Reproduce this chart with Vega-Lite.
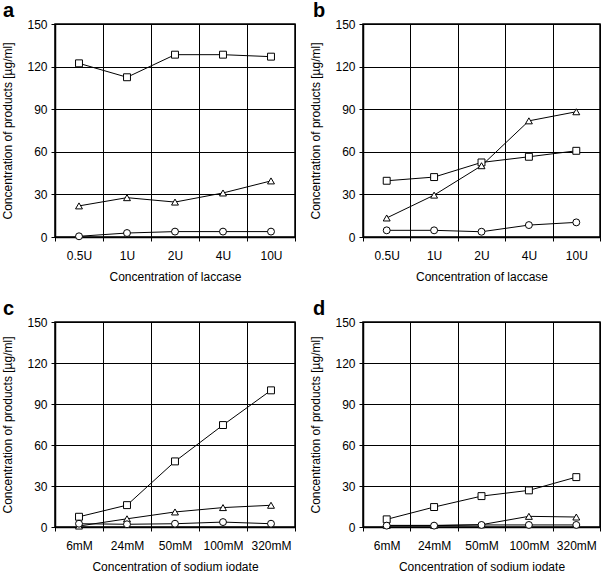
{
  "$schema": "https://vega.github.io/schema/vega-lite/v6.json",
  "padding": {"left": 1, "top": 0, "right": 0, "bottom": 0},
  "background": "white",
  "spacing": 15,
  "config": {
    "font": "Liberation Sans",
    "view": {"stroke": "black", "strokeWidth": 1.5},
    "axis": {
      "labelFont": "Liberation Sans", "labelFontSize": 12, "labelColor": "black",
      "titleFont": "Liberation Sans", "titleFontSize": 12, "titleFontWeight": "normal", "titleColor": "black",
      "domainColor": "black", "domainWidth": 1.5, "tickColor": "black", "tickSize": 4, "tickWidth": 1,
      "gridColor": "black", "gridOpacity": 1, "gridWidth": 1, "labelPadding": 4
    }
  },
  "datasets": {
    "d": [
      {"panel": "a", "conc": "0.5U", "series": "square", "value": 122.3},
      {"panel": "a", "conc": "1U", "series": "square", "value": 112.5},
      {"panel": "a", "conc": "2U", "series": "square", "value": 128.4},
      {"panel": "a", "conc": "4U", "series": "square", "value": 128.4},
      {"panel": "a", "conc": "10U", "series": "square", "value": 127},
      {"panel": "a", "conc": "0.5U", "series": "triangle", "value": 21.9},
      {"panel": "a", "conc": "1U", "series": "triangle", "value": 27.7},
      {"panel": "a", "conc": "2U", "series": "triangle", "value": 24.6},
      {"panel": "a", "conc": "4U", "series": "triangle", "value": 31},
      {"panel": "a", "conc": "10U", "series": "triangle", "value": 39.5},
      {"panel": "a", "conc": "0.5U", "series": "circle", "value": 0.5},
      {"panel": "a", "conc": "1U", "series": "circle", "value": 2.8},
      {"panel": "a", "conc": "2U", "series": "circle", "value": 3.8},
      {"panel": "a", "conc": "4U", "series": "circle", "value": 3.8},
      {"panel": "a", "conc": "10U", "series": "circle", "value": 3.8},
      {"panel": "b", "conc": "0.5U", "series": "square", "value": 39.6},
      {"panel": "b", "conc": "1U", "series": "square", "value": 42.2},
      {"panel": "b", "conc": "2U", "series": "square", "value": 52.5},
      {"panel": "b", "conc": "4U", "series": "square", "value": 56.5},
      {"panel": "b", "conc": "10U", "series": "square", "value": 60.7},
      {"panel": "b", "conc": "0.5U", "series": "triangle", "value": 13.4},
      {"panel": "b", "conc": "1U", "series": "triangle", "value": 29.5},
      {"panel": "b", "conc": "2U", "series": "triangle", "value": 50.2},
      {"panel": "b", "conc": "4U", "series": "triangle", "value": 81.8},
      {"panel": "b", "conc": "10U", "series": "triangle", "value": 88.2},
      {"panel": "b", "conc": "0.5U", "series": "circle", "value": 4.7},
      {"panel": "b", "conc": "1U", "series": "circle", "value": 4.7},
      {"panel": "b", "conc": "2U", "series": "circle", "value": 3.7},
      {"panel": "b", "conc": "4U", "series": "circle", "value": 8.4},
      {"panel": "b", "conc": "10U", "series": "circle", "value": 10.3},
      {"panel": "c", "conc": "6mM", "series": "square", "value": 7.5},
      {"panel": "c", "conc": "24mM", "series": "square", "value": 16},
      {"panel": "c", "conc": "50mM", "series": "square", "value": 48},
      {"panel": "c", "conc": "100mM", "series": "square", "value": 74.6},
      {"panel": "c", "conc": "320mM", "series": "square", "value": 100},
      {"panel": "c", "conc": "6mM", "series": "triangle", "value": 0.7},
      {"panel": "c", "conc": "24mM", "series": "triangle", "value": 6},
      {"panel": "c", "conc": "50mM", "series": "triangle", "value": 11},
      {"panel": "c", "conc": "100mM", "series": "triangle", "value": 14.2},
      {"panel": "c", "conc": "320mM", "series": "triangle", "value": 15.9},
      {"panel": "c", "conc": "6mM", "series": "circle", "value": 2.4},
      {"panel": "c", "conc": "24mM", "series": "circle", "value": 2},
      {"panel": "c", "conc": "50mM", "series": "circle", "value": 2.4},
      {"panel": "c", "conc": "100mM", "series": "circle", "value": 3.6},
      {"panel": "c", "conc": "320mM", "series": "circle", "value": 2.4},
      {"panel": "d", "conc": "6mM", "series": "square", "value": 5.6},
      {"panel": "d", "conc": "24mM", "series": "square", "value": 14.6},
      {"panel": "d", "conc": "50mM", "series": "square", "value": 22.6},
      {"panel": "d", "conc": "100mM", "series": "square", "value": 26.8},
      {"panel": "d", "conc": "320mM", "series": "square", "value": 36.5},
      {"panel": "d", "conc": "6mM", "series": "triangle", "value": 1.2},
      {"panel": "d", "conc": "24mM", "series": "triangle", "value": 1.2},
      {"panel": "d", "conc": "50mM", "series": "triangle", "value": 1.7},
      {"panel": "d", "conc": "100mM", "series": "triangle", "value": 7.8},
      {"panel": "d", "conc": "320mM", "series": "triangle", "value": 7.3},
      {"panel": "d", "conc": "6mM", "series": "circle", "value": 1},
      {"panel": "d", "conc": "24mM", "series": "circle", "value": 1},
      {"panel": "d", "conc": "50mM", "series": "circle", "value": 1.5},
      {"panel": "d", "conc": "100mM", "series": "circle", "value": 1.5},
      {"panel": "d", "conc": "320mM", "series": "circle", "value": 1.5}
    ]
  },
  "vconcat": [
    {
      "spacing": 12,
      "hconcat": [
        {
          "width": 240, "height": 213,
          "title": {"text": "a", "anchor": "start", "frame": "bounds", "fontSize": 20, "fontWeight": "bold", "font": "Liberation Sans", "baseline": "alphabetic", "offset": -19, "dx": 1},
          "data": {"name": "d"},
          "transform": [{"filter": "datum.panel == 'a'"}],
          "encoding": {
            "x": {"field": "conc", "type": "ordinal", "sort": ["0.5U", "1U", "2U", "4U", "10U"], "bandPosition": 0.5, "scale": {"type": "band", "paddingInner": 0, "paddingOuter": 0}, "axis": {"title": "Concentration of laccase", "grid": true, "tickBand": "extent", "labelAngle": 0, "labelPadding": 9, "titlePadding": 10}},
            "y": {"field": "value", "type": "quantitative", "scale": {"domain": [0, 150], "nice": false}, "axis": {"values": [0, 30, 60, 90, 120, 150], "title": "Concentration of products [µg/ml]", "titlePadding": 12}}
          },
          "layer": [
            {"mark": {"type": "line", "color": "black", "strokeWidth": 1}, "encoding": {"detail": {"field": "series"}, "order": {"value": null}}},
            {"mark": {"type": "point", "filled": true, "fill": "white", "stroke": "black", "strokeWidth": 1, "size": 48, "opacity": 1}, "encoding": {"shape": {"field": "series", "type": "nominal", "scale": {"domain": ["square", "triangle", "circle"], "range": ["square", "triangle-up", "circle"]}, "legend": null}}}
          ]
        },
        {
          "width": 237, "height": 213,
          "title": {"text": "b", "anchor": "start", "frame": "bounds", "fontSize": 20, "fontWeight": "bold", "font": "Liberation Sans", "baseline": "alphabetic", "offset": -19, "dx": 3},
          "data": {"name": "d"},
          "transform": [{"filter": "datum.panel == 'b'"}],
          "encoding": {
            "x": {"field": "conc", "type": "ordinal", "sort": ["0.5U", "1U", "2U", "4U", "10U"], "bandPosition": 0.5, "scale": {"type": "band", "paddingInner": 0, "paddingOuter": 0}, "axis": {"title": "Concentration of laccase", "grid": true, "tickBand": "extent", "labelAngle": 0, "labelPadding": 9, "titlePadding": 10}},
            "y": {"field": "value", "type": "quantitative", "scale": {"domain": [0, 150], "nice": false}, "axis": {"values": [0, 30, 60, 90, 120, 150], "title": "Concentration of products [µg/ml]", "titlePadding": 12}}
          },
          "layer": [
            {"mark": {"type": "line", "color": "black", "strokeWidth": 1}, "encoding": {"detail": {"field": "series"}, "order": {"value": null}}},
            {"mark": {"type": "point", "filled": true, "fill": "white", "stroke": "black", "strokeWidth": 1, "size": 48, "opacity": 1}, "encoding": {"shape": {"field": "series", "type": "nominal", "scale": {"domain": ["square", "triangle", "circle"], "range": ["square", "triangle-up", "circle"]}, "legend": null}}}
          ]
        }
      ]
    },
    {
      "spacing": 12,
      "hconcat": [
        {
          "width": 240, "height": 205,
          "title": {"text": "c", "anchor": "start", "frame": "bounds", "fontSize": 20, "fontWeight": "bold", "font": "Liberation Sans", "baseline": "alphabetic", "offset": -19, "dx": 1},
          "data": {"name": "d"},
          "transform": [{"filter": "datum.panel == 'c'"}],
          "encoding": {
            "x": {"field": "conc", "type": "ordinal", "sort": ["6mM", "24mM", "50mM", "100mM", "320mM"], "bandPosition": 0.5, "scale": {"type": "band", "paddingInner": 0, "paddingOuter": 0}, "axis": {"title": "Concentration of sodium iodate", "grid": true, "tickBand": "extent", "labelAngle": 0, "labelPadding": 9, "titlePadding": 10}},
            "y": {"field": "value", "type": "quantitative", "scale": {"domain": [0, 150], "nice": false}, "axis": {"values": [0, 30, 60, 90, 120, 150], "title": "Concentration of products [µg/ml]", "titlePadding": 12}}
          },
          "layer": [
            {"mark": {"type": "line", "color": "black", "strokeWidth": 1}, "encoding": {"detail": {"field": "series"}, "order": {"value": null}}},
            {"mark": {"type": "point", "filled": true, "fill": "white", "stroke": "black", "strokeWidth": 1, "size": 48, "opacity": 1}, "encoding": {"shape": {"field": "series", "type": "nominal", "scale": {"domain": ["square", "triangle", "circle"], "range": ["square", "triangle-up", "circle"]}, "legend": null}}}
          ]
        },
        {
          "width": 237, "height": 205,
          "title": {"text": "d", "anchor": "start", "frame": "bounds", "fontSize": 20, "fontWeight": "bold", "font": "Liberation Sans", "baseline": "alphabetic", "offset": -19, "dx": 3},
          "data": {"name": "d"},
          "transform": [{"filter": "datum.panel == 'd'"}],
          "encoding": {
            "x": {"field": "conc", "type": "ordinal", "sort": ["6mM", "24mM", "50mM", "100mM", "320mM"], "bandPosition": 0.5, "scale": {"type": "band", "paddingInner": 0, "paddingOuter": 0}, "axis": {"title": "Concentration of sodium iodate", "grid": true, "tickBand": "extent", "labelAngle": 0, "labelPadding": 9, "titlePadding": 10}},
            "y": {"field": "value", "type": "quantitative", "scale": {"domain": [0, 150], "nice": false}, "axis": {"values": [0, 30, 60, 90, 120, 150], "title": "Concentration of products [µg/ml]", "titlePadding": 12}}
          },
          "layer": [
            {"mark": {"type": "line", "color": "black", "strokeWidth": 1}, "encoding": {"detail": {"field": "series"}, "order": {"value": null}}},
            {"mark": {"type": "point", "filled": true, "fill": "white", "stroke": "black", "strokeWidth": 1, "size": 48, "opacity": 1}, "encoding": {"shape": {"field": "series", "type": "nominal", "scale": {"domain": ["square", "triangle", "circle"], "range": ["square", "triangle-up", "circle"]}, "legend": null}}}
          ]
        }
      ]
    }
  ]
}
